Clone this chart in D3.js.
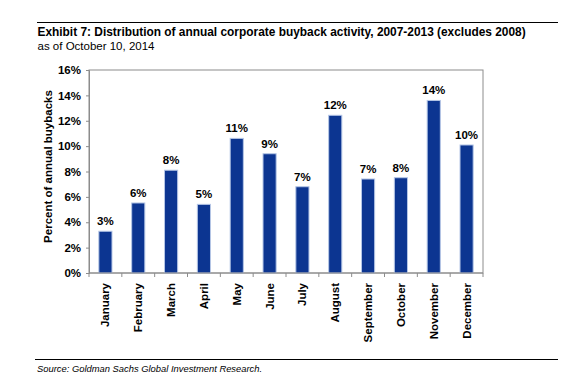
<!DOCTYPE html>
<html><head><meta charset="utf-8">
<script src="https://cdn.jsdelivr.net/npm/d3@7"></script>
<style>body{margin:0;background:#fff}svg{display:block;font-family:"Liberation Sans",Arial,sans-serif}</style>
</head><body>
<svg id="c" width="574" height="379"></svg>
<script>
const months = ["January","February","March","April","May","June","July","August","September","October","November","December"];
const values = [3.29, 5.52, 8.1, 5.41, 10.61, 9.40, 6.80, 12.43, 7.41, 7.51, 13.6, 10.09];
const valueLabels = ["3%","6%","8%","5%","11%","9%","7%","12%","7%","8%","14%","10%"];
const yTicks = [0,2,4,6,8,10,12,14,16];

const svg = d3.select("#c");
const m = {l:89, r:483, t:70, b:273};

// header
svg.append("line").attr("x1",37).attr("x2",558).attr("y1",22.5).attr("y2",22.5).attr("stroke","#000").attr("stroke-width",1);
svg.append("text").attr("x",37.5).attr("y",36).attr("font-size",11.9).attr("font-weight","bold")
  .text("Exhibit 7: Distribution of annual corporate buyback activity, 2007-2013 (excludes 2008)");
svg.append("text").attr("x",37.5).attr("y",50).attr("font-size",11.5)
  .text("as of October 10, 2014");

const x = d3.scaleBand().domain(months).range([m.l, m.r]).paddingInner(0.6).paddingOuter(0.3);
const y = d3.scaleLinear().domain([0,16]).range([m.b, m.t]);

// frame
svg.append("rect").attr("x",m.l).attr("y",m.t).attr("width",m.r-m.l).attr("height",m.b-m.t)
  .attr("fill","none").attr("stroke","#8c8c8c").attr("stroke-width",1);

// bars
svg.selectAll("rect.bar").data(values).join("rect").attr("class","bar")
  .attr("x",(d,i)=>x(months[i])).attr("width",x.bandwidth())
  .attr("y",d=>y(d)).attr("height",d=>y(0)-y(d))
  .attr("fill","#0c3591").attr("stroke","#b5c6e6").attr("stroke-width",1);

svg.selectAll("text.vl").data(values).join("text").attr("class","vl")
  .attr("x",(d,i)=>x(months[i])+x.bandwidth()/2).attr("y",d=>y(d)-6)
  .attr("text-anchor","middle").attr("font-size",11.5).attr("font-weight","bold")
  .text((d,i)=>valueLabels[i]);

// y axis
const ya = svg.append("g").attr("transform",`translate(${m.l},0)`)
  .call(d3.axisLeft(y).tickValues(yTicks).tickFormat(d=>d+"%").tickSize(3).tickPadding(5));
ya.select(".domain").attr("stroke","#8c8c8c");
ya.selectAll(".tick line").attr("stroke","#8c8c8c");
ya.selectAll("text").attr("font-size",11.5).attr("font-weight","bold").attr("fill","#000").attr("font-family","Liberation Sans, Arial, sans-serif");

// x axis
const xa = svg.append("g").attr("transform",`translate(0,${m.b})`);
xa.append("line").attr("x1",m.l).attr("x2",m.r).attr("stroke","#8c8c8c");
xa.selectAll("line.t").data(d3.range(months.length+1)).join("line").attr("class","t")
  .attr("x1",i=>m.l + i*(m.r-m.l)/months.length).attr("x2",i=>m.l + i*(m.r-m.l)/months.length)
  .attr("y1",0).attr("y2",4).attr("stroke","#8c8c8c");
xa.selectAll("text").data(months).join("text")
  .attr("transform",d=>`translate(${x(d)+x.bandwidth()/2+4},10) rotate(-90)`)
  .attr("text-anchor","end").attr("font-size",11.5).attr("font-weight","bold").text(d=>d);

// y label
svg.append("text").attr("transform",`translate(52,166.5) rotate(-90)`)
  .attr("text-anchor","middle").attr("font-size",11.5).attr("font-weight","bold")
  .text("Percent of annual buybacks");

// footer
svg.append("line").attr("x1",35).attr("x2",558).attr("y1",359.5).attr("y2",359.5).attr("stroke","#000");
svg.append("text").attr("x",37).attr("y",371.5).attr("font-size",9.4).attr("font-style","italic")
  .text("Source: Goldman Sachs Global Investment Research.");
</script>
</body></html>
